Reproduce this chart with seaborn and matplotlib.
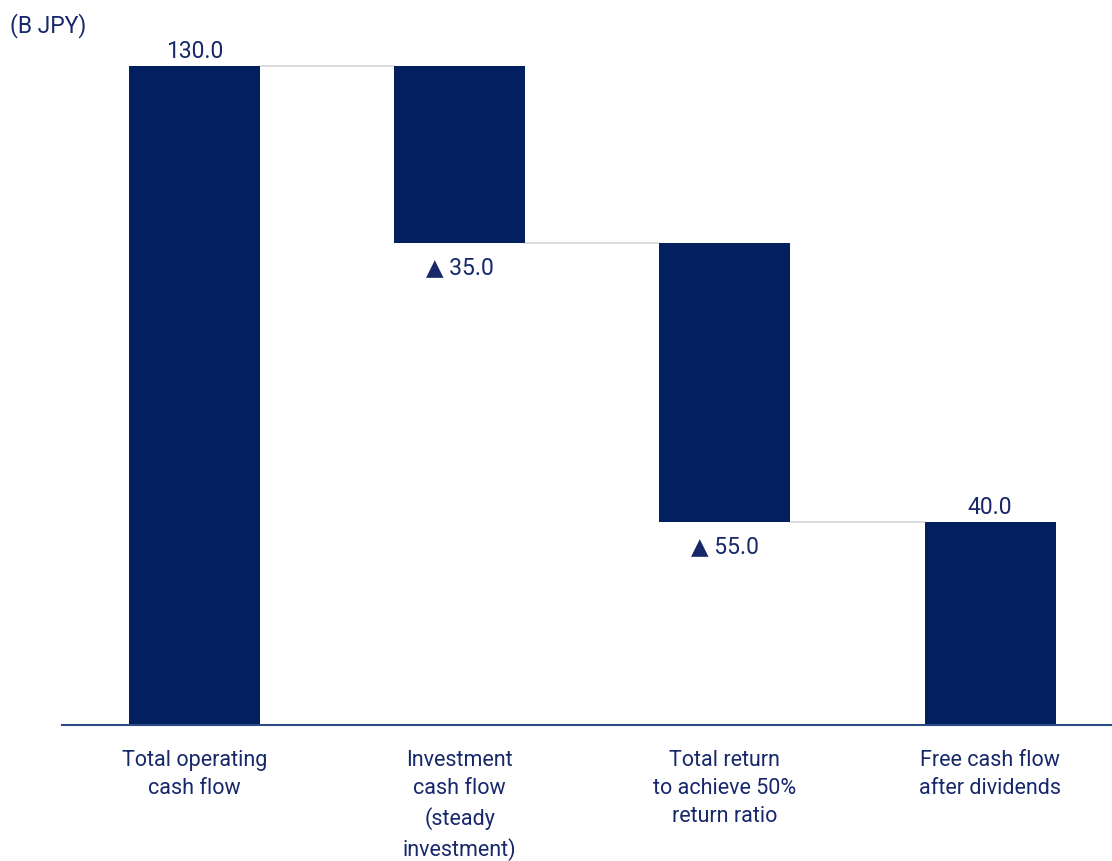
import matplotlib
matplotlib.use("Agg")
import matplotlib.pyplot as plt
import seaborn as sns
import pandas as pd
import numpy as np

categories = ["Total operating\ncash flow",
              "Investment\ncash flow\n(steady\ninvestment)",
              "Total return\nto achieve 50%\nreturn ratio",
              "Free cash flow\nafter dividends"]
values = [130.0, -35.0, -55.0, 40.0]
is_total = [True, False, False, True]
unit_label = "(B JPY)"

# waterfall geometry derived from the values
bottoms, heights, levels = [], [], []
running = 0.0
for v, t in zip(values, is_total):
    if t:
        bottoms.append(0.0); heights.append(v); running = v
    else:
        new = running + v
        bottoms.append(min(running, new)); heights.append(abs(v)); running = new
    levels.append(running)

df = pd.DataFrame({"cat": categories, "height": heights})

NAVY = "#021F60"
TEXT = "#16286A"
FONT = ["Roboto", "DejaVu Sans"]

sns.set_theme(style="white")
plt.rcParams["font.family"] = FONT

fig = plt.figure(figsize=(11.12, 8.61), dpi=100)
ax = fig.add_axes([62/1112, 1 - 725/861, 1 - 62/1112, (725 - 15.2)/861])

bw = 0.494
sns.barplot(data=df, x="cat", y="height", bottom=bottoms, color=NAVY,
            saturation=1, width=bw, ax=ax, linewidth=0, zorder=2)

ax.set_xlim(-0.5, 3.46)
ax.set_ylim(0, 140)

# connectors
for i in range(len(values) - 1):
    ax.plot([i + bw/2, i + 1 - bw/2], [levels[i], levels[i]], color="#D4D6DB",
            lw=1.2, zorder=1)

# value labels
for i, (v, t) in enumerate(zip(values, is_total)):
    if v >= 0:
        ax.annotate(f"{v:.1f}", (i, bottoms[i] + heights[i]), xytext=(0, 2),
                    textcoords="offset points", ha="center", va="bottom",
                    fontsize=16.5, color=TEXT, family=FONT)
    else:
        ax.annotate(f"▲ {abs(v):.1f}", (i, bottoms[i]), xytext=(0, -9),
                    textcoords="offset points", ha="center", va="top",
                    fontsize=16.5, color=TEXT, family=FONT)

ax.set_xlabel("")
ax.set_ylabel("")
ax.set_yticks([])
ax.tick_params(axis="x", length=0, pad=18, labelsize=15.5, labelcolor=TEXT)
for lab in ax.get_xticklabels():
    lab.set_linespacing(1.45)
for s in ["top", "right", "left"]:
    ax.spines[s].set_visible(False)
ax.spines["bottom"].set_color("#2E4A86")
ax.spines["bottom"].set_linewidth(1.5)

fig.text(10/1112, 1 - 26/861, unit_label, ha="left", va="center",
         fontsize=16.5, color=TEXT, family=FONT)

fig.savefig("out.png", dpi=100, facecolor="white")
